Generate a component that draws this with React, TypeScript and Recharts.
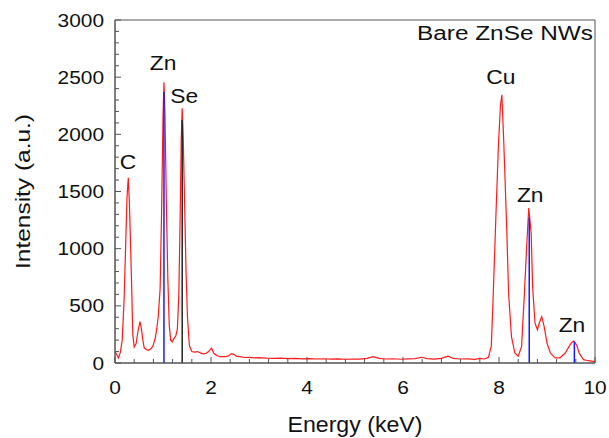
import React from 'react';
import {
  ComposedChart,
  Line,
  XAxis,
  YAxis,
  ReferenceLine,
  ReferenceArea,
  Scatter,
} from 'recharts';

// EDS spectrum
const energies = [
  0.0, 0.03, 0.07, 0.11, 0.15, 0.19, 0.22, 0.25, 0.277, 0.3, 0.33, 0.35, 0.37, 0.4, 0.44, 0.48, 0.52, 0.55,
  0.58, 0.61, 0.66, 0.7, 0.73, 0.77, 0.8, 0.84, 0.87, 0.9, 0.94, 0.97, 1.0, 1.02, 1.04, 1.07, 1.1, 1.13,
  1.16, 1.19, 1.23, 1.27, 1.3, 1.33, 1.36, 1.38, 1.4, 1.42, 1.45, 1.48, 1.51, 1.55, 1.6, 1.66, 1.72, 1.78,
  1.84, 1.9, 1.95, 2.01, 2.06, 2.12, 2.19, 2.29, 2.36, 2.42, 2.47, 2.53, 2.6, 2.7, 2.8, 2.9, 3.0, 3.15,
  3.3, 3.45, 3.6, 3.75, 3.9, 4.05, 4.2, 4.35, 4.5, 4.65, 4.8, 4.95, 5.1, 5.25, 5.38, 5.5, 5.65, 5.8, 5.95,
  6.1, 6.25, 6.39, 6.5, 6.65, 6.8, 6.94, 7.05, 7.2, 7.35, 7.5, 7.6, 7.7, 7.78, 7.84, 7.88, 7.94, 7.99,
  8.03, 8.06, 8.1, 8.16, 8.2, 8.26, 8.33, 8.4, 8.47, 8.53, 8.58, 8.62, 8.67, 8.7, 8.75, 8.8, 8.84, 8.89,
  8.94, 9.0, 9.07, 9.17, 9.27, 9.38, 9.44, 9.51, 9.56, 9.62, 9.67, 9.76, 9.86, 9.96, 10.0,
];
const counts = [
  95, 80, 44, 90, 200, 560, 1000, 1450, 1620, 1400, 950, 620, 250, 140, 170, 280, 361, 300,
  200, 130, 117, 110, 120, 135, 160, 220, 300, 400, 650, 1300, 2150, 2455, 2200, 1400, 750, 330,
  200, 185, 215, 240, 300, 600, 1350, 1950, 2228, 2000, 1400, 800, 400, 150, 100, 95, 100, 88,
  80, 85, 100, 130, 85, 65, 55, 55, 62, 80, 78, 60, 55, 48, 50, 45, 47, 42,
  40, 43, 38, 40, 36, 38, 35, 37, 34, 36, 33, 35, 34, 40, 55, 40, 35, 37, 33,
  36, 38, 50, 38, 34, 40, 60, 40, 35, 36, 32, 40, 35, 50, 150, 600, 1340, 1925,
  2250, 2345, 1925, 1190, 610, 230, 87, 60, 143, 612, 1050, 1356, 1140, 670, 350, 290, 350, 405,
  320, 175, 87, 44, 44, 87, 130, 178, 192, 155, 87, 29, 20, 15, 15,
];

// fitted peak positions (stick lines)
const stickEnergies = [1.02, 1.4, 8.63, 9.57];
const stickHeights = [2370, 2125, 1270, 187];
const stickColors = ['#1a1aff', '#222222', '#1a1aff', '#1a1aff'];

// element labels
const labelTexts = ['C', 'Zn', 'Se', 'Cu', 'Zn', 'Zn'];
const labelEnergies = [0.27, 1.0, 1.44, 8.04, 8.65, 9.52];
const labelCounts = [1760, 2625, 2336, 2500, 1470, 332];

const xTicks = [
  0, 0.4, 0.8, 1.2, 1.6, 2, 2.4, 2.8, 3.2, 3.6, 4, 4.4, 4.8, 5.2, 5.6, 6, 6.4, 6.8, 7.2, 7.6, 8, 8.4, 8.8,
  9.2, 9.6, 10,
];
const yTicks = [
  0, 100, 200, 300, 400, 500, 600, 700, 800, 900, 1000, 1100, 1200, 1300, 1400, 1500, 1600, 1700, 1800,
  1900, 2000, 2100, 2200, 2300, 2400, 2500, 2600, 2700, 2800, 2900, 3000,
];

const spectrum = energies.map((e, i) => ({ energy: e, counts: counts[i] }));
const peakLabels = labelTexts.map((t, i) => ({ energy: labelEnergies[i], counts: labelCounts[i], text: t }));

const FONT = "Arial, 'Liberation Sans', sans-serif";
const AXIS_COLOR = '#555';
const TEXT_COLOR = '#111';
const Y_GAP = 11;

// the source figure uses a slightly wider face than Arial
function WideText({ x, y, anchor, size, sx, dy, children }: any) {
  return (
    <text
      transform={`translate(${x} ${y}) scale(${sx} 1)`}
      dy={dy}
      textAnchor={anchor}
      fontSize={size}
      fontFamily={FONT}
      fill={TEXT_COLOR}
    >
      {children}
    </text>
  );
}

function YTick(props: any) {
  const { x, y, payload } = props;
  const v = payload.value;
  const major = v % 500 === 0;
  const ax = x + Y_GAP;
  return (
    <g>
      <line x1={ax} x2={ax + (major ? 6 : 4)} y1={y} y2={y} stroke={AXIS_COLOR} />
      {major && (
        <WideText x={x} y={y} anchor="end" size={18.5} sx={1.13} dy="0.36em">
          {v}
        </WideText>
      )}
    </g>
  );
}

function XTick(props: any) {
  const { x, y, payload } = props;
  const v = payload.value;
  const major = Math.abs(v % 2) < 1e-6;
  return (
    <g>
      <line x1={x} x2={x} y1={y} y2={y - (major ? 6 : 4)} stroke={AXIS_COLOR} />
      {major && (
        <WideText x={x} y={y + 31} anchor="middle" size={18.5} sx={1.13}>
          {v}
        </WideText>
      )}
    </g>
  );
}

function PeakLabel(props: any) {
  const { cx, cy, payload } = props;
  return (
    <WideText x={cx} y={cy} anchor="middle" size={19.5} sx={1.17} dy="0.36em">
      {payload.text}
    </WideText>
  );
}

export default function App() {
  return (
    <div style={{ position: 'absolute', left: 0, top: 0, background: '#fff' }}>
      <ComposedChart width={609} height={438} data={spectrum} margin={{ top: 20, right: 14, bottom: 0, left: 0 }}>
        <XAxis
          dataKey="energy"
          type="number"
          domain={[0, 10]}
          ticks={xTicks}
          interval={0}
          height={75}
          tickSize={0}
          tickMargin={0}
          tick={<XTick />}
          axisLine={{ stroke: AXIS_COLOR }}
          label={{
            content: ({ viewBox }: any) => (
              <text
                x={viewBox.x + viewBox.width / 2}
                y={viewBox.y + 69}
                textAnchor="middle"
                fontSize={22}
                fontFamily={FONT}
                fill={TEXT_COLOR}
                textLength={135}
                lengthAdjust="spacingAndGlyphs"
              >
                Energy (keV)
              </text>
            ),
          }}
        />
        <YAxis
          type="number"
          domain={[0, 3000]}
          ticks={yTicks}
          interval={0}
          width={115}
          tickSize={0}
          tickMargin={Y_GAP}
          tick={<YTick />}
          axisLine={{ stroke: AXIS_COLOR }}
          label={{
            content: ({ viewBox }: any) => {
              const cx = 23;
              const cy = viewBox.y + viewBox.height / 2;
              return (
                <text
                  x={cx}
                  y={cy}
                  dy="0.36em"
                  transform={`rotate(-90 ${cx} ${cy})`}
                  textAnchor="middle"
                  fontSize={20}
                  fontFamily={FONT}
                  fill={TEXT_COLOR}
                  textLength={155}
                  lengthAdjust="spacingAndGlyphs"
                >
                  Intensity (a.u.)
                </text>
              );
            },
          }}
        />
        <ReferenceArea
          x1={0}
          x2={10}
          y1={0}
          y2={3000}
          fill="none"
          stroke={AXIS_COLOR}
          strokeWidth={1}
          label={{
            content: ({ viewBox }: any) => (
              <text
                x={viewBox.x + viewBox.width - 2}
                y={viewBox.y + 20}
                textAnchor="end"
                fontSize={20}
                fontFamily={FONT}
                fill={TEXT_COLOR}
                textLength={176}
                lengthAdjust="spacingAndGlyphs"
              >
                Bare ZnSe NWs
              </text>
            ),
          }}
        />
        <Line
          dataKey="counts"
          type="linear"
          stroke="#ff1a1a"
          strokeWidth={1.2}
          dot={false}
          isAnimationActive={false}
        />
        {stickEnergies.map((e, i) => (
          <ReferenceLine
            key={`stick-${i}`}
            segment={[
              { x: e, y: 0 },
              { x: e, y: stickHeights[i] },
            ]}
            stroke={stickColors[i]}
            strokeWidth={1.5}
          />
        ))}
        <Scatter data={peakLabels} dataKey="counts" shape={<PeakLabel />} isAnimationActive={false} />
      </ComposedChart>
    </div>
  );
}
